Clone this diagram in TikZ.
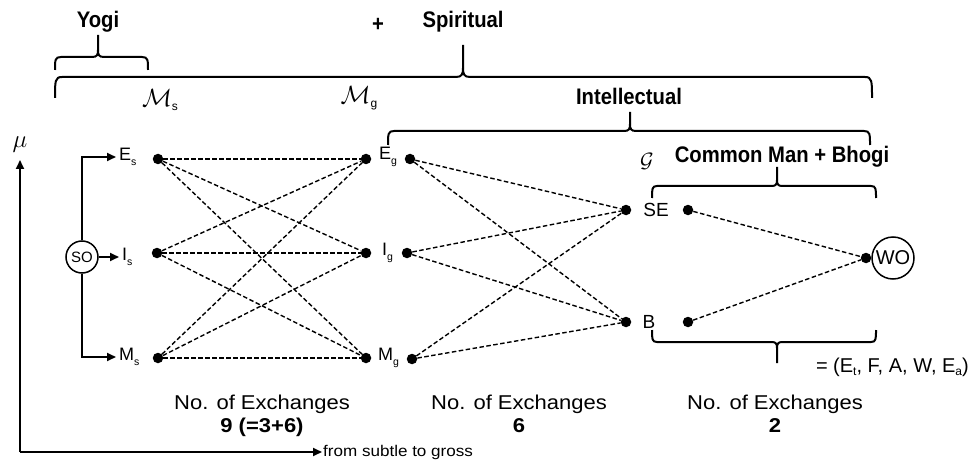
\documentclass[tikz,border=0pt]{standalone}
\usepackage{fontspec}
\setmainfont{Liberation Sans}
\newfontfamily\wfam{Liberation Sans}[FakeStretch=1.1]
\newfontfamily\tfam{Liberation Sans}[FakeStretch=0.9]
\usetikzlibrary{arrows.meta}
\newcommand\lsub[1]{\raisebox{-0.55ex}{\fontsize{10.5}{10.5}\selectfont #1}}
\newcommand\msub[1]{\raisebox{-0.35ex}{\fontsize{12}{12}\selectfont #1}}
\begin{document}
\begin{tikzpicture}[x=1pt,y=-1pt,
  dotn/.style={circle,fill,inner sep=0pt,minimum size=10.5pt},
  lbl/.style={font=\fontsize{18}{18}\selectfont,inner sep=0pt},
  ttl/.style={font=\tfam\bfseries\fontsize{22.5}{22.5}\selectfont,inner sep=0pt},
  cnt/.style={font=\wfam\fontsize{20}{20}\selectfont,inner sep=0pt,anchor=base},
  cntb/.style={font=\wfam\bfseries\fontsize{20}{20}\selectfont,inner sep=0pt,anchor=base},
  calm/.style={inner sep=0pt,font=\fontsize{24}{24}\selectfont},
  ex/.style={dash pattern=on 4.5pt off 2.5pt,line width=1.4pt},
  brc/.style={line width=2pt},
  arr/.style={line width=1.8pt,-{Triangle[length=9pt,width=8pt]}},
  circ/.style={circle,draw,line width=1.5pt,inner sep=0pt}]
\useasboundingbox (0,0) rectangle (971,465);

% titles
\node[ttl] (yogi) at (98,22) {Yogi};
\node[ttl] (plus) at (378,25) {+};
\node[ttl] (spir) at (463,22) {Spiritual};
\node[ttl] (intel) at (629,96) {Intellectual};
\node[ttl] (cmb) at (782,157) {Common Man + Bhogi};
\node[calm] (Ms) at (160,100) {$\mathcal{M}$\msub{s}};
\node[calm] (Mg) at (359,98) {$\mathcal{M}$\msub{g}};
\node[inner sep=0pt,font=\fontsize{22}{22}\selectfont] (G) at (647,161) {$\mathcal{G}$};
\node[inner sep=0pt,font=\fontsize{24}{24}\selectfont] (mu) at (20,145) {$\mu$};

% braces
\draw[brc] (55,70) .. controls (55,60) and (55,57) .. (61,57) -- (92,57)
  .. controls (97,57) and (98,55) .. (98,50) -- (98,35);
\draw[brc] (98,50) .. controls (98,55) and (99,57) .. (104,57) -- (142,57)
  .. controls (148,57) and (148,60) .. (148,70);
\draw[brc] (55,98) .. controls (55,81) and (55,77) .. (62,77) -- (456,77)
  .. controls (462,77) and (463,74) .. (463,68) -- (463,45);
\draw[brc] (463,68) .. controls (463,74) and (464,77) .. (470,77) -- (865,77)
  .. controls (872,77) and (872,81) .. (872,98);
\draw[brc] (388,145) .. controls (388,134) and (388,131) .. (394,131) -- (624,131)
  .. controls (629,131) and (630,129) .. (630,124) -- (630,112);
\draw[brc] (630,124) .. controls (630,129) and (631,131) .. (636,131) -- (864,131)
  .. controls (870,131) and (870,134) .. (870,145);
\draw[brc] (652,198) .. controls (652,189) and (652,186) .. (657,186) -- (772,186)
  .. controls (776,186) and (777,184) .. (777,180) -- (777,167);
\draw[brc] (777,180) .. controls (777,184) and (778,186) .. (782,186) -- (871,186)
  .. controls (876,186) and (876,189) .. (876,198);
\draw[brc] (652,330) .. controls (652,339) and (652,342) .. (657,342) -- (772,342)
  .. controls (776,342) and (777,344) .. (777,348) -- (777,363);
\draw[brc] (777,348) .. controls (777,344) and (778,342) .. (782,342) -- (871,342)
  .. controls (876,342) and (876,339) .. (876,330);
\node[inner sep=0pt,anchor=base east,font=\fontsize{20}{20}\selectfont] (tuple) at (969,372)
  {= (E\msub{t}, F, A, W, E\msub{a})};

% axes
\coordinate (org) at (20,452);
\coordinate (ytop) at (20,160);
\coordinate (xend) at (322,452);
\draw[arr] (org) -- (ytop);
\draw[arr] (org) -- (xend);
\node[font=\wfam\fontsize{15.5}{15.5}\selectfont,inner sep=0pt,anchor=west] (sg) at (323,452) {from subtle to gross};

% SO and labels
\node[circ,minimum size=32pt,font=\fontsize{15}{15}\selectfont] (so) at (82,257) {SO};
\node[lbl,anchor=west] (lEs) at (119,157) {E\lsub{s}};
\node[lbl,anchor=west] (lIs) at (122,257) {I\lsub{s}};
\node[lbl,anchor=west] (lMs) at (119,357) {M\lsub{s}};
\draw[arr,shorten >=3pt] (so.north) |- (lEs.west);
\draw[arr,shorten >=3pt] (so.east) -- (lIs.west);
\draw[arr,shorten >=3pt] (so.south) |- (lMs.west);

% dots
\node[dotn] (es) at (158,159) {};
\node[dotn] (is) at (157,253) {};
\node[dotn] (ms) at (158,358) {};
\node[dotn] (eg) at (366,159) {};
\node[dotn] (ig) at (366,253) {};
\node[dotn] (mg) at (366,358) {};
\node[lbl,anchor=west] (lEg) at (379,157) {E\lsub{g}};
\node[lbl,anchor=west] (lIg) at (382,253) {I\lsub{g}};
\node[lbl,anchor=west] (lMg) at (378,358) {M\lsub{g}};
\node[dotn] (eg2) at (410,159) {};
\node[dotn] (ig2) at (407,253) {};
\node[dotn] (mg2) at (412,359) {};
\node[dotn] (se) at (626,210) {};
\node[dotn] (b) at (626,322) {};
\node[lbl,font=\fontsize{19}{19}\selectfont] (lSE) at (656,210) {SE};
\node[lbl,font=\fontsize{19}{19}\selectfont] (lB) at (649,322) {B};
\node[dotn] (se2) at (688,210) {};
\node[dotn] (b2) at (688,322) {};
\node[dotn] (wod) at (866,258) {};
\node[circ,minimum size=42pt,font=\fontsize{20}{20}\selectfont] (wo) at (893,258) {WO};

% exchanges
\foreach \a in {es,is,ms}
  \foreach \b in {eg,ig,mg}
    \draw[ex] (\a) -- (\b);
\foreach \a in {eg2,ig2,mg2}
  \foreach \b in {se,b}
    \draw[ex] (\a) -- (\b);
\draw[ex] (se2) -- (wod);
\draw[ex] (b2) -- (wod);

% counts
\node[cnt] (n1) at (262,409) {No. of Exchanges};
\node[cntb] (c1) at (262,432) {9 (=3+6)};
\node[cnt] (n2) at (519,409) {No. of Exchanges};
\node[cntb] (c2) at (519,432) {6};
\node[cnt] (n3) at (775,409) {No. of Exchanges};
\node[cntb] (c3) at (775,432) {2};
\end{tikzpicture}
\end{document}
